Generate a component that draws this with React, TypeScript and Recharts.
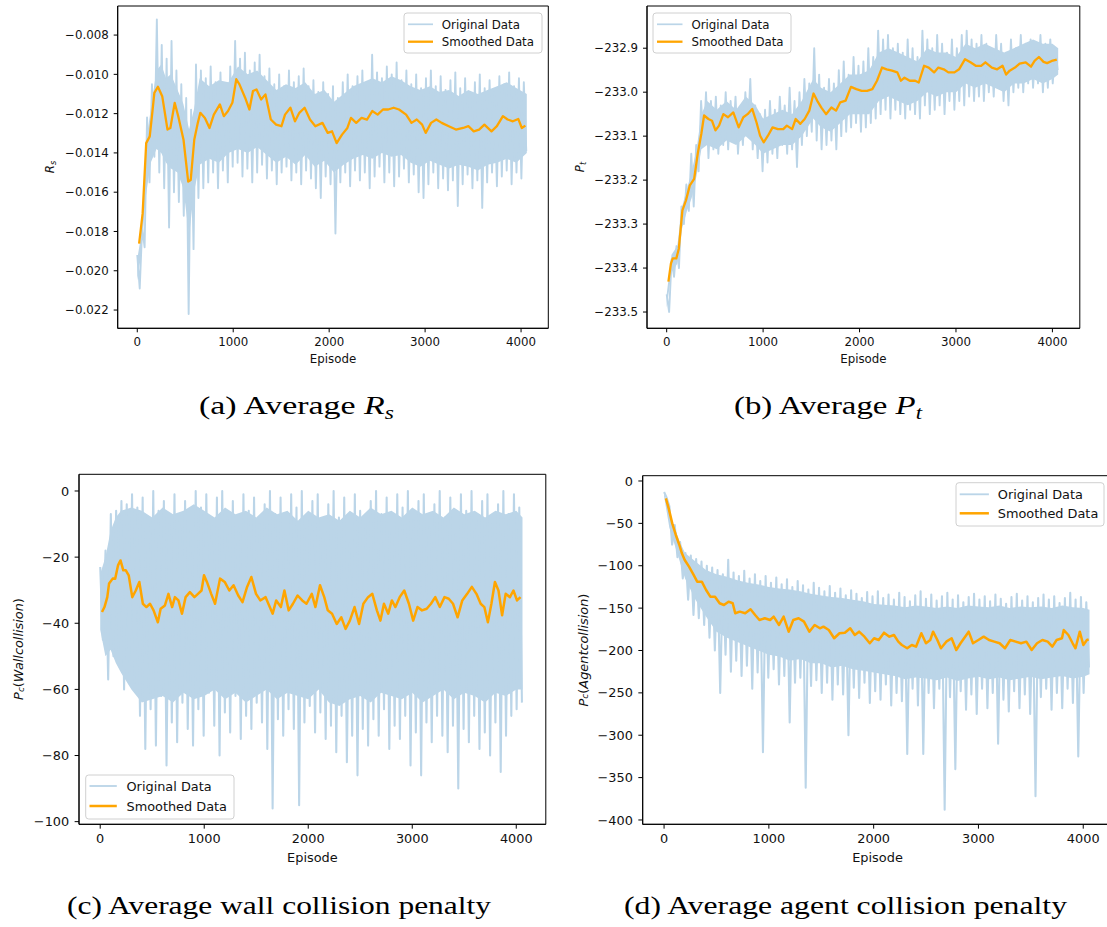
import React from 'react'
import { ComposedChart, Area, Line, XAxis, YAxis, ReferenceArea } from 'recharts'

// raw episodes are sampled on a fixed grid: high point at i*STEP, low point half a step later
const RAW_STEP = 51

const rawHiA = [
  -0.0192, -0.0178, -0.0122, -0.0105, -0.0072, -0.0085, -0.0092, -0.0083, -0.0098, -0.0105,
  -0.0112, -0.0118, -0.0095, -0.0098, -0.0102, -0.0096, -0.0104, -0.0099, -0.0107, -0.0096,
  -0.0083, -0.0092, -0.0089, -0.0098, -0.0094, -0.009, -0.0101, -0.0097, -0.0105, -0.01,
  -0.0106, -0.0098, -0.0104, -0.0101, -0.0097, -0.0106, -0.0103, -0.0109, -0.0104, -0.011,
  -0.0106, -0.0112, -0.0104, -0.01, -0.0106, -0.0101, -0.0098, -0.0104, -0.009, -0.0099,
  -0.0102, -0.0096, -0.01, -0.0094, -0.0103, -0.0098, -0.0105, -0.01, -0.0107, -0.0102,
  -0.0098, -0.0106, -0.0101, -0.0108, -0.0103, -0.0099, -0.0107, -0.0102, -0.011, -0.0104,
  -0.01, -0.0107, -0.0103, -0.0109, -0.0101, -0.0105, -0.0099, -0.0106, -0.0102, -0.0104,
]
const rawLoA = [
  -0.0209, -0.0188, -0.0155, -0.0142, -0.015, -0.0158, -0.0178, -0.016, -0.0165, -0.0172,
  -0.0222, -0.0189, -0.0163, -0.0158, -0.0155, -0.015, -0.0158, -0.0149, -0.0155, -0.0147,
  -0.0145, -0.0152, -0.0148, -0.0155, -0.015, -0.0146, -0.0153, -0.0149, -0.0156, -0.015,
  -0.0147, -0.0154, -0.015, -0.0156, -0.0149, -0.0153, -0.0158, -0.0163, -0.0152, -0.0156,
  -0.0181, -0.0155, -0.015, -0.0157, -0.0149, -0.0154, -0.015, -0.0158, -0.0152, -0.0147,
  -0.0155, -0.015, -0.0157, -0.0152, -0.0148, -0.0155, -0.0151, -0.016, -0.0163, -0.0156,
  -0.015, -0.0158, -0.0153, -0.0159, -0.0154, -0.0167, -0.0156, -0.0151, -0.0158, -0.0154,
  -0.0168, -0.0155, -0.015, -0.0157, -0.0152, -0.0149, -0.0156, -0.015, -0.0153, -0.0139,
]
// dense part of the raw trace: [episode, low, high]
const coreA: [number, number, number][] = [
  [0, -0.0205, -0.0194], [40, -0.0192, -0.0182], [90, -0.0162, -0.0135], [140, -0.0145, -0.0118],
  [200, -0.0138, -0.0098], [250, -0.014, -0.0095], [300, -0.0145, -0.0102], [350, -0.0148, -0.01],
  [420, -0.015, -0.0108], [480, -0.0158, -0.0115], [540, -0.0182, -0.0128], [590, -0.016, -0.0118],
  [650, -0.0146, -0.0102], [750, -0.0143, -0.0106], [850, -0.0145, -0.0103], [950, -0.014, -0.0104],
  [1050, -0.0138, -0.0096], [1150, -0.014, -0.01], [1250, -0.0137, -0.0098], [1350, -0.0141, -0.0103],
  [1450, -0.0145, -0.0108], [1550, -0.0142, -0.0105], [1650, -0.0146, -0.0107], [1750, -0.0141, -0.0104],
  [1850, -0.0147, -0.011], [1950, -0.0144, -0.0108], [2050, -0.015, -0.0114], [2150, -0.0146, -0.011],
  [2250, -0.0143, -0.0106], [2350, -0.0141, -0.0104], [2450, -0.0143, -0.0102], [2550, -0.014, -0.0104],
  [2650, -0.0142, -0.0101], [2750, -0.0141, -0.0103], [2850, -0.0145, -0.0106], [2950, -0.0147, -0.0108],
  [3050, -0.0144, -0.0106], [3150, -0.0146, -0.0109], [3250, -0.0148, -0.0108], [3350, -0.0146, -0.0111],
  [3450, -0.0147, -0.0108], [3550, -0.0149, -0.011], [3650, -0.0146, -0.0108], [3750, -0.0145, -0.0106],
  [3850, -0.0143, -0.0104], [3950, -0.0145, -0.0107], [4060, -0.014, -0.011],
]
const smoothA: [number, number][] = [
  [19, -0.01862], [56, -0.01708], [93, -0.0135], [130, -0.01316], [160, -0.01179], [178, -0.01094],
  [215, -0.01063], [260, -0.01111], [315, -0.01281], [345, -0.01273], [390, -0.01145], [427, -0.01213],
  [482, -0.01333], [531, -0.01546], [557, -0.01538], [594, -0.01333], [631, -0.01247], [657, -0.01196],
  [705, -0.01222], [753, -0.01273], [798, -0.01205], [861, -0.01153], [902, -0.01213], [946, -0.01187],
  [991, -0.01145], [1032, -0.01025], [1065, -0.01051], [1124, -0.01119], [1169, -0.01179], [1206, -0.01085],
  [1243, -0.01077], [1291, -0.01128], [1336, -0.01102], [1392, -0.0123], [1447, -0.01256], [1503, -0.01264],
  [1540, -0.01205], [1596, -0.0117], [1644, -0.01239], [1689, -0.01196], [1744, -0.0117], [1800, -0.0123],
  [1856, -0.01264], [1930, -0.01247], [1985, -0.01298], [2030, -0.0129], [2078, -0.0135], [2134, -0.01307],
  [2190, -0.01273], [2227, -0.01222], [2282, -0.01247], [2338, -0.01222], [2394, -0.0123], [2449, -0.01187],
  [2505, -0.01205], [2561, -0.01179], [2616, -0.01179], [2672, -0.0117], [2728, -0.01179], [2802, -0.01205],
  [2858, -0.01247], [2913, -0.0123], [2969, -0.01256], [3006, -0.01298], [3062, -0.01247], [3117, -0.0123],
  [3173, -0.01247], [3247, -0.01264], [3321, -0.01281], [3396, -0.01273], [3451, -0.01264], [3507, -0.0129],
  [3563, -0.01281], [3618, -0.01256], [3692, -0.0129], [3748, -0.01264], [3811, -0.01213], [3860, -0.0123],
  [3915, -0.01239], [3971, -0.01227], [4008, -0.01273], [4045, -0.01261],
]

const rawHiB = [
  -233.46, -233.38, -233.35, -233.26, -233.21, -233.14, -233.12, -233.02, -233.0, -233.02,
  -233.01, -233.03, -233.0, -233.02, -233.01, -233.04, -233.0, -232.97, -233.03, -233.05,
  -233.04, -233.02, -233.04, -233.01, -233.03, -232.99, -233.02, -233.0, -232.97, -232.98,
  -232.9, -232.96, -232.99, -232.97, -232.98, -232.95, -232.93, -232.96, -232.92, -232.94,
  -232.93, -232.9, -232.92, -232.86, -232.88, -232.87, -232.9, -232.89, -232.91, -232.88,
  -232.9, -232.92, -232.86, -232.88, -232.9, -232.87, -232.89, -232.91, -232.88, -232.9,
  -232.87, -232.86, -232.88, -232.89, -232.87, -232.89, -232.9, -232.87, -232.89, -232.91,
  -232.88, -232.9, -232.87, -232.89, -232.88, -232.9, -232.87, -232.89, -232.88, -232.9,
]
const rawLoB = [
  -233.5, -233.42, -233.4, -233.3, -233.27, -233.26, -233.18, -233.12, -233.15, -233.13,
  -233.14, -233.12, -233.13, -233.11, -233.14, -233.12, -233.1, -233.13, -233.15, -233.18,
  -233.16, -233.14, -233.15, -233.12, -233.14, -233.13, -233.17, -233.12, -233.1, -233.09,
  -233.11, -233.13, -233.12, -233.11, -233.13, -233.1, -233.09, -233.08, -233.07, -233.09,
  -233.08, -233.07, -233.06, -233.05, -233.04, -233.06, -233.04, -233.05, -233.06, -233.04,
  -233.05, -233.06, -233.03, -233.05, -233.04, -233.03, -233.05, -233.02, -233.04, -233.02,
  -233.03, -233.01, -233.02, -233.01, -233.02, -233.0, -233.01, -232.99, -233.02, -233.03,
  -233.0, -232.99, -233.0, -232.98, -232.99, -232.98, -233.0, -232.99, -232.98, -232.95,
]
const coreB: [number, number, number][] = [
  [0, -233.49, -233.46], [50, -233.41, -233.37], [110, -233.39, -233.35], [160, -233.31, -233.26],
  [210, -233.27, -233.22], [260, -233.24, -233.18], [310, -233.19, -233.13], [360, -233.13, -233.05],
  [420, -233.12, -233.02], [520, -233.13, -233.04], [620, -233.11, -233.02], [720, -233.12, -233.04],
  [820, -233.1, -233.01], [920, -233.12, -233.03], [1000, -233.14, -233.06], [1100, -233.13, -233.05],
  [1200, -233.12, -233.04], [1300, -233.12, -233.05], [1400, -233.1, -233.02], [1520, -233.06, -232.97],
  [1600, -233.08, -232.99], [1700, -233.09, -233.0], [1800, -233.07, -232.98], [1900, -233.05, -232.96],
  [2000, -233.05, -232.96], [2100, -233.05, -232.95], [2200, -233.02, -232.91], [2300, -233.01, -232.9],
  [2400, -233.02, -232.91], [2500, -233.03, -232.92], [2600, -233.02, -232.93], [2700, -233.0, -232.9],
  [2800, -233.01, -232.91], [2900, -233.0, -232.91], [3000, -233.0, -232.92], [3100, -232.98, -232.89],
  [3200, -232.99, -232.9], [3300, -232.98, -232.89], [3400, -232.99, -232.9], [3500, -233.0, -232.91],
  [3600, -232.98, -232.9], [3700, -232.98, -232.89], [3800, -232.97, -232.88], [3900, -232.98, -232.89],
  [4000, -232.97, -232.89], [4060, -232.96, -232.9],
]
const smoothB: [number, number][] = [
  [18, -233.431], [44, -233.39], [63, -233.378], [100, -233.378], [126, -233.356], [163, -233.269],
  [200, -233.246], [240, -233.212], [285, -233.197], [322, -233.14], [359, -233.095], [388, -233.053],
  [433, -233.061], [470, -233.065], [506, -233.087], [543, -233.076], [588, -233.05], [636, -233.057],
  [691, -233.046], [747, -233.08], [795, -233.057], [839, -233.05], [887, -233.038], [932, -233.069],
  [969, -233.099], [1006, -233.114], [1050, -233.099], [1098, -233.08], [1153, -233.084], [1209, -233.084],
  [1246, -233.076], [1301, -233.084], [1338, -233.061], [1386, -233.072], [1431, -233.061], [1479, -233.042],
  [1523, -233.003], [1560, -233.019], [1604, -233.035], [1653, -233.05], [1708, -233.035], [1756, -233.042],
  [1800, -233.023], [1856, -233.019], [1911, -232.988], [1967, -232.993], [2022, -232.997], [2078, -232.997],
  [2133, -232.993], [2181, -232.974], [2233, -232.944], [2281, -232.948], [2337, -232.951], [2392, -232.955],
  [2429, -232.974], [2466, -232.967], [2521, -232.974], [2577, -232.974], [2614, -232.978], [2669, -232.94],
  [2717, -232.944], [2773, -232.955], [2817, -232.944], [2873, -232.948], [2921, -232.955], [2984, -232.955],
  [3032, -232.948], [3094, -232.925], [3150, -232.932], [3205, -232.94], [3261, -232.94], [3305, -232.932],
  [3372, -232.944], [3427, -232.948], [3483, -232.94], [3520, -232.96], [3557, -232.951], [3612, -232.944],
  [3660, -232.935], [3723, -232.932], [3778, -232.942], [3815, -232.929], [3860, -232.92], [3908, -232.931],
  [3945, -232.934], [3993, -232.929], [4045, -232.926],
]

const rawHiC = [
  -23, -18, -7, -6, -3, -4, -1, -5, -2, -8,
  0, -6, -3, -10, -1, -7, -3, -12, 0, -5,
  -1, -9, -2, 0, -8, -3, -11, -1, -6, -2,
  -10, -4, 0, -7, -2, -12, -1, -5, 0, -9,
  -3, -1, -14, -4, 0, -8, -2, -16, -1, -6,
  -10, -3, 0, -7, -2, -12, -1, -5, 0, -9,
  -3, -1, -11, -4, 0, -8, -2, -13, -1, -6,
  0, -9, -3, -1, -10, -4, 0, -7, -1, -5,
]
const rawLoC = [
  -45, -57, -50, -48, -60, -55, -58, -68, -78, -66,
  -77, -62, -83, -70, -76, -64, -72, -77, -66, -74,
  -61, -71, -80, -67, -73, -62, -75, -68, -72, -64,
  -70, -78, -96, -69, -74, -66, -72, -95, -70, -65,
  -73, -67, -75, -71, -79, -68, -82, -74, -86, -72,
  -77, -69, -74, -66, -78, -71, -75, -68, -83, -73,
  -86, -70, -76, -68, -74, -79, -71, -90, -72, -76,
  -68, -78, -73, -80, -70, -85, -74, -68, -66, -64,
]
const coreC: [number, number, number][] = [
  [0, -42, -25], [50, -50, -20], [100, -48, -12], [150, -52, -8], [200, -55, -6], [300, -60, -5],
  [400, -64, -6], [500, -63, -8], [600, -62, -5], [700, -64, -7], [800, -61, -6], [900, -63, -4],
  [1000, -62, -6], [1100, -60, -8], [1200, -63, -5], [1300, -61, -7], [1400, -64, -6], [1500, -62, -8],
  [1600, -60, -5], [1700, -63, -7], [1800, -61, -6], [1900, -62, -9], [2000, -63, -6], [2100, -60, -8],
  [2200, -64, -7], [2300, -65, -9], [2400, -63, -6], [2500, -62, -8], [2600, -64, -5], [2700, -61, -7],
  [2800, -62, -6], [2900, -63, -8], [3000, -61, -5], [3100, -64, -7], [3200, -62, -6], [3300, -60, -8],
  [3400, -63, -5], [3500, -61, -7], [3600, -62, -6], [3700, -64, -8], [3800, -61, -6], [3900, -62, -7],
  [4000, -60, -6], [4060, -60, -8],
]
const smoothC: [number, number][] = [
  [17, -36.6], [41, -35.1], [68, -32.1], [85, -28], [120, -26.5], [144, -26.5], [171, -22.5], [195, -21],
  [222, -24], [246, -24], [274, -25.5], [308, -32.1], [342, -30.1], [376, -27.5], [410, -34.1], [444, -35.1],
  [479, -34.1], [513, -36.1], [554, -39.7], [581, -35.6], [622, -34.6], [656, -31.1], [691, -35.1], [718, -32.1],
  [752, -33.1], [786, -37.1], [821, -32.1], [862, -30.6], [906, -32.1], [940, -31.1], [974, -30.1], [998, -25.5],
  [1026, -27.5], [1067, -31.1], [1104, -34.1], [1152, -26.5], [1197, -27.5], [1241, -30.1], [1282, -28.5],
  [1327, -31.6], [1368, -33.6], [1412, -29], [1453, -26], [1498, -31.1], [1539, -33.1], [1590, -32.1],
  [1624, -34.6], [1658, -37.1], [1692, -33.1], [1737, -35.1], [1771, -30.1], [1812, -36.1], [1853, -34.1],
  [1898, -31.6], [1942, -33.1], [1983, -34.1], [2034, -31.1], [2069, -35.1], [2113, -28.5], [2154, -32.1],
  [2188, -36.1], [2229, -37.1], [2274, -40.2], [2318, -38.2], [2359, -41.7], [2400, -39.2], [2445, -35.1],
  [2489, -40.2], [2530, -34.1], [2575, -32.1], [2616, -31.1], [2660, -36.1], [2694, -39.2], [2728, -34.1],
  [2769, -37.1], [2804, -33.1], [2838, -35.1], [2879, -32.1], [2923, -30.1], [2968, -34.1], [3009, -39.2],
  [3050, -35.1], [3094, -36.1], [3139, -35.6], [3180, -34.1], [3221, -32.1], [3265, -35.1], [3310, -32.1],
  [3351, -32.6], [3392, -34.1], [3436, -38.2], [3481, -33.1], [3528, -31.1], [3573, -29], [3617, -31.1],
  [3658, -34.1], [3693, -35.1], [3727, -39.7], [3761, -34.1], [3795, -27.5], [3829, -30.1], [3864, -37.6],
  [3898, -31.1], [3939, -32.1], [3973, -30.1], [4007, -33.1], [4041, -32.1],
]

const rawHiD = [
  -13, -30, -52, -72, -85, -88, -92, -95, -100, -102,
  -105, -110, -93, -108, -112, -106, -115, -110, -118, -112,
  -120, -114, -122, -116, -125, -118, -123, -128, -120, -126,
  -130, -124, -132, -127, -135, -129, -133, -138, -131, -136,
  -130, -138, -134, -140, -132, -137, -142, -135, -130, -139,
  -134, -141, -136, -132, -140, -135, -143, -137, -133, -140,
  -136, -142, -134, -139, -145, -137, -133, -141, -136, -143,
  -138, -134, -140, -136, -144, -138, -132, -140, -137, -143,
]
const rawLoD = [
  -20, -75, -90, -115, -140, -158, -162, -170, -185, -200,
  -250, -205, -225, -212, -230, -218, -245, -226, -320, -232,
  -222, -240, -230, -285, -238, -232, -362, -242, -235, -250,
  -238, -258, -240, -252, -300, -244, -256, -238, -262, -248,
  -258, -240, -265, -250, -260, -322, -245, -265, -322, -250,
  -268, -245, -388, -255, -340, -248, -270, -252, -275, -245,
  -268, -250, -310, -258, -272, -248, -268, -252, -275, -372,
  -255, -245, -270, -250, -268, -245, -262, -325, -250, -220,
]
const coreD: [number, number, number][] = [
  [0, -18, -14], [50, -55, -35], [100, -75, -55], [150, -95, -72], [200, -115, -85], [300, -140, -95],
  [400, -160, -105], [500, -178, -110], [600, -185, -113], [700, -190, -117], [800, -195, -120],
  [900, -200, -122], [1000, -205, -125], [1100, -207, -127], [1200, -212, -128], [1300, -210, -130],
  [1400, -215, -133], [1500, -215, -135], [1600, -220, -137], [1700, -218, -138], [1800, -222, -140],
  [1900, -224, -142], [2000, -226, -145], [2100, -228, -146], [2200, -230, -147], [2300, -234, -149],
  [2400, -232, -147], [2500, -233, -148], [2600, -235, -150], [2700, -232, -148], [2800, -236, -150],
  [2900, -233, -147], [3000, -231, -148], [3100, -234, -149], [3200, -232, -147], [3300, -235, -150],
  [3400, -233, -148], [3500, -231, -149], [3600, -234, -148], [3700, -232, -150], [3800, -230, -147],
  [3900, -233, -149], [4000, -231, -150], [4060, -228, -152],
]
const smoothD: [number, number][] = [
  [17, -20.5], [44, -32.3], [78, -50], [112, -63.7], [146, -75.5], [170, -85.3], [197, -93.2], [238, -101.1],
  [282, -110.9], [316, -118.8], [360, -118.8], [401, -128.6], [441, -136.5], [486, -136.5], [530, -144.3],
  [571, -146.3], [615, -142.4], [655, -144.3], [679, -156.1], [723, -154.2], [774, -156.1], [825, -151.4],
  [869, -158.1], [910, -164], [961, -162], [1012, -164], [1046, -160.1], [1097, -169.9], [1141, -160.1],
  [1189, -177.8], [1233, -164], [1284, -162], [1335, -166], [1386, -177.8], [1437, -169.9], [1487, -173.8],
  [1521, -171.9], [1572, -175.8], [1623, -185.6], [1674, -179.7], [1725, -179], [1776, -173.8], [1820, -181.7],
  [1861, -177.8], [1912, -183.7], [1963, -191.5], [2004, -185.6], [2048, -187.6], [2099, -179], [2150, -183.7],
  [2194, -181.7], [2235, -189.6], [2269, -193.5], [2320, -197.4], [2364, -193.5], [2404, -195.5], [2455, -179.7],
  [2499, -191.5], [2540, -187.6], [2567, -177.8], [2608, -187.6], [2642, -197.4], [2693, -189.6], [2744, -185.6],
  [2788, -199.4], [2829, -191.5], [2873, -183.7], [2907, -177.8], [2948, -191.5], [2999, -187.6], [3050, -183.7],
  [3101, -187.6], [3151, -189.6], [3202, -191.5], [3253, -197.4], [3304, -187.6], [3355, -189.6], [3406, -191.5],
  [3457, -189.6], [3508, -199.4], [3559, -191.5], [3610, -187.6], [3661, -189.6], [3705, -195.5], [3746, -187.6],
  [3797, -185.6], [3814, -175.8], [3858, -181.7], [3899, -191.5], [3926, -197.4], [3967, -177.8], [4001, -193.5],
  [4035, -187.6], [4052, -186.8],
]

const xTicks = [0, 1000, 2000, 3000, 4000]
const yTicksA = [-0.022, -0.02, -0.018, -0.016, -0.014, -0.012, -0.01, -0.008]
const yTicksB = [-233.5, -233.4, -233.3, -233.2, -233.1, -233.0, -232.9]
const yTicksC = [-100, -80, -60, -40, -20, 0]
const yTicksD = [-400, -350, -300, -250, -200, -150, -100, -50, 0]

const X_DOMAIN: [number, number] = [-204, 4284]
const RAW_COLOR = '#bbd5e8'
const SMOOTH_COLOR = '#ffa500'
const FONT = 'DejaVu Sans'

type Pt = { ep: number; v: number }
type Band = { ep: number; band: [number, number] }

const rawSeries = (hi: number[], lo: number[]): Pt[] =>
  hi.flatMap((h, i) => [
    { ep: i * RAW_STEP, v: h },
    { ep: i * RAW_STEP + RAW_STEP / 2, v: lo[i] },
  ])
const smoothSeries = (pts: [number, number][]): Pt[] => pts.map(([ep, v]) => ({ ep, v }))
const coreSeries = (pts: [number, number, number][]): Band[] =>
  pts.map(([ep, lo, hi]) => ({ ep, band: [lo, hi] }))

const minus = (s: string) => s.replace('-', '\u2212')

type Frame = { l: number; t: number; r: number; b: number }

interface PanelProps {
  frame: Frame
  yDomain: [number, number]
  yTicks: number[]
  digits: number
  raw: Pt[]
  core: Band[]
  smooth: Pt[]
  s: number
}

function Panel({ frame, yDomain, yTicks, digits, raw, core, smooth, s }: PanelProps) {
  const AX_W = 70
  const AX_H = 30
  const left = Math.floor(frame.l - AX_W - 4)
  const top = Math.floor(frame.t - 4)
  const width = Math.ceil(frame.r + 6 - left)
  const height = Math.ceil(frame.b + AX_H + 4 - top)
  const margin = {
    left: frame.l - AX_W - left,
    top: frame.t - top,
    right: left + width - frame.r,
    bottom: top + height - frame.b - AX_H,
  }
  const fs = 11.8 * s
  const tick = { fontSize: fs, fill: '#111', fontFamily: FONT }
  return (
    <div style={{ position: 'absolute', left, top }}>
      <ComposedChart width={width} height={height} margin={margin}>
        <XAxis
          type="number"
          dataKey="ep"
          domain={X_DOMAIN}
          ticks={xTicks}
          interval={0}
          allowDataOverflow
          height={AX_H}
          tick={tick}
          tickSize={4 * s}
          tickMargin={5 * s}
          stroke="#000"
          tickLine={{ stroke: '#000' }}
        />
        <YAxis
          type="number"
          domain={yDomain}
          ticks={yTicks}
          interval={0}
          allowDataOverflow
          width={AX_W}
          tick={tick}
          tickSize={4 * s}
          tickMargin={5 * s}
          stroke="#000"
          tickLine={{ stroke: '#000' }}
          tickFormatter={(v: number) => minus(v.toFixed(digits))}
        />
        {/* the source trace has thousands of points; its solid core is drawn as a range area */}
        <Area
          data={core}
          dataKey="band"
          type="linear"
          stroke="none"
          fill={RAW_COLOR}
          fillOpacity={1}
          dot={false}
          activeDot={false}
          isAnimationActive={false}
        />
        <Line
          data={raw}
          dataKey="v"
          type="linear"
          stroke={RAW_COLOR}
          strokeWidth={1.9 * s}
          strokeLinejoin="round"
          dot={false}
          activeDot={false}
          isAnimationActive={false}
        />
        <Line
          data={smooth}
          dataKey="v"
          type="linear"
          stroke={SMOOTH_COLOR}
          strokeWidth={2.3 * s}
          strokeLinejoin="round"
          dot={false}
          activeDot={false}
          isAnimationActive={false}
        />
        <ReferenceArea
          x1={X_DOMAIN[0]}
          x2={X_DOMAIN[1]}
          y1={yDomain[0]}
          y2={yDomain[1]}
          fill="none"
          stroke="#000"
          strokeWidth={1}
        />
      </ComposedChart>
    </div>
  )
}

interface LegendProps {
  x: number
  y: number
  w: number
  h: number
  rows: [number, number]
  hx: [number, number]
  tx: number
  s: number
}

function LegendBox({ x, y, w, h, rows, hx, tx, s }: LegendProps) {
  const fs = 11.8 * s
  return (
    <g>
      <rect x={x} y={y} width={w} height={h} rx={3} fill="#fff" fillOpacity={0.8} stroke="#d0d0d0" strokeWidth={1} />
      <line x1={hx[0]} x2={hx[1]} y1={rows[0]} y2={rows[0]} stroke={RAW_COLOR} strokeWidth={1.7 * s} />
      <line x1={hx[0]} x2={hx[1]} y1={rows[1]} y2={rows[1]} stroke={SMOOTH_COLOR} strokeWidth={2.3 * s} />
      <text x={tx} y={rows[0] + 0.36 * fs} fontSize={fs} fontFamily={FONT} fill="#111">Original Data</text>
      <text x={tx} y={rows[1] + 0.36 * fs} fontSize={fs} fontFamily={FONT} fill="#111">Smoothed Data</text>
    </g>
  )
}

function YLabel({ x, y, s, sub, rest }: { x: number; y: number; s: number; sub: [string, string]; rest?: string }) {
  const fs = 11.8 * s
  return (
    <text
      transform={`translate(${x},${y}) rotate(-90)`}
      textAnchor="middle"
      dominantBaseline="central"
      fontSize={fs}
      fontFamily={FONT}
      fill="#111"
    >
      <tspan fontStyle="italic">{sub[0]}</tspan>
      <tspan fontStyle="italic" fontSize={fs * 0.7} dy={fs * 0.22}>{sub[1]}</tspan>
      {rest && (
        <>
          <tspan dy={-fs * 0.22}>(</tspan>
          <tspan fontStyle="italic">{rest}</tspan>
          <tspan>)</tspan>
        </>
      )}
    </text>
  )
}

const CAPTION_FONT = 'Liberation Serif'

export default function App() {
  const top = 1
  const bot = 1.09
  return (
    <div style={{ position: 'absolute', left: 0, top: 0, width: 1107, height: 927, overflow: 'hidden', background: '#fff' }}>
      <Panel frame={{ l: 117.7, t: 6, r: 548.3, b: 328.3 }} yDomain={[-0.02293, -0.00652]} yTicks={yTicksA} digits={3}
        raw={rawSeries(rawHiA, rawLoA)} core={coreSeries(coreA)} smooth={smoothSeries(smoothA)} s={top} />
      <Panel frame={{ l: 647, t: 6, r: 1079.8, b: 328.3 }} yDomain={[-233.537, -232.804]} yTicks={yTicksB} digits={1}
        raw={rawSeries(rawHiB, rawLoB)} core={coreSeries(coreB)} smooth={smoothSeries(smoothB)} s={top} />
      <Panel frame={{ l: 79, t: 474.3, r: 545.8, b: 824.3 }} yDomain={[-100.8, 5.05]} yTicks={yTicksC} digits={0}
        raw={rawSeries(rawHiC, rawLoC)} core={coreSeries(coreC)} smooth={smoothSeries(smoothC)} s={bot} />
      <Panel frame={{ l: 642.7, t: 475.7, r: 1113, b: 824.3 }} yDomain={[-405.1, 6.25]} yTicks={yTicksD} digits={0}
        raw={rawSeries(rawHiD, rawLoD)} core={coreSeries(coreD)} smooth={smoothSeries(smoothD)} s={bot} />

      <svg width={1107} height={927} style={{ position: 'absolute', left: 0, top: 0, pointerEvents: 'none' }}>
        <LegendBox x={404} y={13} w={138} h={40} rows={[24.3, 41.7]} hx={[408, 433]} tx={441.8} s={top} />
        <LegendBox x={653} y={13} w={138} h={40} rows={[24.3, 41.7]} hx={[657, 682.5]} tx={691.4} s={top} />
        <LegendBox x={85.7} y={775} w={148.3} h={44} rows={[786, 806]} hx={[89.5, 116.8]} tx={126.5} s={bot} />
        <LegendBox x={956} y={482.7} w={148} h={43.3} rows={[494.3, 513.3]} hx={[959.7, 988.9]} tx={997.8} s={bot} />

        <YLabel x={50} y={167} s={top} sub={['R', 's']} />
        <YLabel x={580} y={167} s={top} sub={['P', 't']} />
        <YLabel x={18} y={649} s={bot} sub={['P', 'c']} rest="Wallcollision" />
        <YLabel x={582.5} y={650} s={bot} sub={['P', 'c']} rest="Agentcollision" />

        <text x={333} y={362.7} textAnchor="middle" fontSize={11.8} fontFamily={FONT} fill="#111">Episode</text>
        <text x={863.4} y={362.7} textAnchor="middle" fontSize={11.8} fontFamily={FONT} fill="#111">Episode</text>
        <text x={312.4} y={861.7} textAnchor="middle" fontSize={12.9} fontFamily={FONT} fill="#111">Episode</text>
        <text x={877.5} y={861.7} textAnchor="middle" fontSize={12.9} fontFamily={FONT} fill="#111">Episode</text>

        <text x={199} y={413.5} fontSize={26} fontFamily={CAPTION_FONT} fill="#000" textLength={195} lengthAdjust="spacingAndGlyphs">
          (a) Average <tspan fontStyle="italic">R</tspan><tspan fontStyle="italic" fontSize={18} dy={5}>s</tspan>
        </text>
        <text x={734} y={413.5} fontSize={26} fontFamily={CAPTION_FONT} fill="#000" textLength={188} lengthAdjust="spacingAndGlyphs">
          (b) Average <tspan fontStyle="italic">P</tspan><tspan fontStyle="italic" fontSize={18} dy={5}>t</tspan>
        </text>
        <text x={67} y={913.5} fontSize={26} fontFamily={CAPTION_FONT} fill="#000" textLength={424} lengthAdjust="spacingAndGlyphs">
          (c) Average wall collision penalty
        </text>
        <text x={624} y={913.5} fontSize={26} fontFamily={CAPTION_FONT} fill="#000" textLength={443} lengthAdjust="spacingAndGlyphs">
          (d) Average agent collision penalty
        </text>
      </svg>
    </div>
  )
}
